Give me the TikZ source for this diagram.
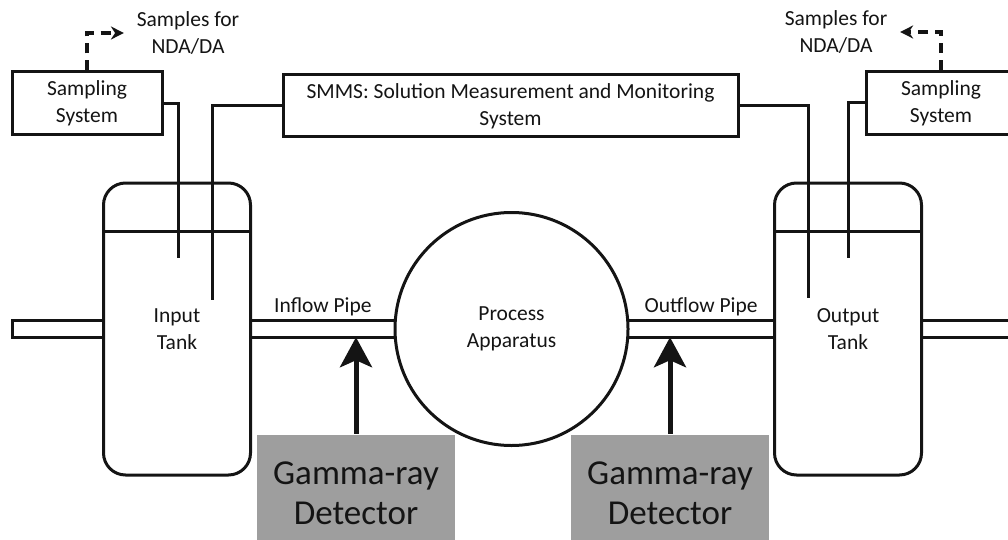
\documentclass[tikz,border=0pt]{standalone}
\usepackage{fontspec}
\setmainfont{Carlito}
\usetikzlibrary{arrows.meta,positioning,calc}
\definecolor{inkgray}{RGB}{20,20,20}
\definecolor{detgray}{RGB}{158,158,158}

\begin{document}
\begin{tikzpicture}[
    x=1pt, y=-1pt, line width=3pt, color=inkgray,
    txt/.style={font=\fontsize{21.5}{27}\selectfont, text=inkgray, align=center},
    sbox/.style={txt, draw, minimum width=150pt, minimum height=63pt},
    tank/.style={txt, draw, rounded corners=22pt, minimum width=147pt, minimum height=292pt},
    vessel/.style={txt, draw, circle, minimum size=233pt, inner sep=0pt},
    det/.style={fill=detgray, text=inkgray, font=\fontsize{35}{40}\selectfont, align=center,
                minimum width=198pt, minimum height=116pt},
    gam/.style={line width=5pt, -{Stealth[length=30pt,width=32pt,inset=7pt]}},
    smp/.style={line width=3.5pt, dash pattern=on 10pt off 7pt,
                -{Stealth[length=13pt,width=13pt]}, shorten >=8pt}
]
\useasboundingbox (0,0) rectangle (1008,540);
\node[sbox] (samp1) at (87,103.5) {Sampling\\System};
\node[sbox] (samp2) at (941,103) {Sampling\\System};
\node[sbox, minimum width=455pt, minimum height=62pt] (smms) at (510.5,106)
     {SMMS: Solution Measurement and Monitoring\\System};
\node[txt] (nda1) at (188,33) {Samples for\\NDA/DA};
\node[txt] (nda2) at (836,32) {Samples for\\NDA/DA};
\node[vessel] (proc) at (511.5,329) {Process\\Apparatus};
\node[tank] (tankin) at (177,329) {Input\\Tank};
\node[tank] (tankout) at (848,329) {Output\\Tank};
\node[det] (det1) at (356,493) {Gamma-ray\\Detector};
\node[det] (det2) at (670,493) {Gamma-ray\\Detector};
\coordinate (sin) at (178,258);
\coordinate (min) at (212,300);
\coordinate (mout) at (808,298);
\coordinate (sout) at (848,258);
\coordinate (pend) at (12,329);
\draw ([yshift=-50pt]tankin.north west) -- ([yshift=-50pt]tankin.north east);
\draw ([yshift=-50pt]tankout.north west) -- ([yshift=-50pt]tankout.north east);
\draw (samp1.east) -| (sin);
\draw (smms.west) -| (min);
\draw (smms.east) -| (mout);
\draw (samp2.west) -| (sout);
\draw (tankin.west |- proc.176) -| (pend) |- (tankin.west |- proc.184);
\draw (tankin.east |- proc.176) -- (proc.176);
\draw (tankin.east |- proc.184) -- (proc.184);
\draw (proc.4) -- (tankout.west |- proc.4);
\draw (proc.356) -- (tankout.west |- proc.356);
\draw (tankout.east |- proc.4) -- ++(100,0);
\draw (tankout.east |- proc.356) -- ++(100,0);
\path (tankin.east |- proc.176) -- node[txt, above] (inlbl) {Inflow Pipe} (proc.176);
\path (proc.4) -- node[txt, above] (outlbl) {Outflow Pipe} (tankout.west |- proc.4);
\draw[smp] (samp1.north) |- (nda1.west);
\draw[smp] (samp2.north) |- (nda2.east);
\draw[gam] (det1.north) -- (det1.north |- proc.184);
\draw[gam] (det2.north) -- (det2.north |- proc.184);
\end{tikzpicture}
\end{document}
